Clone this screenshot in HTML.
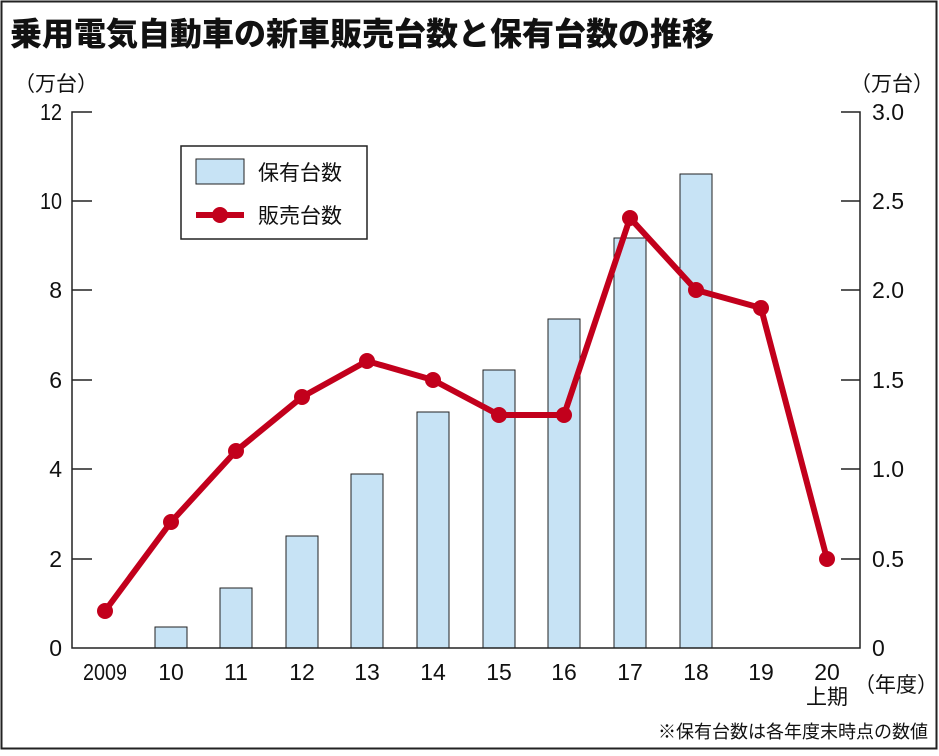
<!DOCTYPE html>
<html><head><meta charset="utf-8"><style>
body{margin:0;background:#fff;}
svg text{font-family:"Liberation Sans","Noto Sans CJK JP",sans-serif;fill:#111;}
</style></head><body>
<svg width="939" height="751" xmlns="http://www.w3.org/2000/svg">
<rect x="1.5" y="1.5" width="935" height="747" fill="#fff" stroke="#222" stroke-width="2"/>
<text x="10" y="45" font-size="32" font-weight="900" style="font-family:'Noto Sans CJK JP',sans-serif">乗用電気自動車の新車販売台数と保有台数の推移</text>
<text x="14" y="91" font-size="21">（万台）</text>
<text x="850" y="91" font-size="21">（万台）</text>
<g font-size="23" text-anchor="end">
<text x="62" y="120" textLength="22" lengthAdjust="spacingAndGlyphs">12</text><text x="62" y="209" textLength="22" lengthAdjust="spacingAndGlyphs">10</text><text x="62" y="298">8</text><text x="62" y="388">6</text><text x="62" y="477">4</text><text x="62" y="567">2</text><text x="62" y="656">0</text>
</g>
<g font-size="23">
<text x="872" y="120" textLength="32" lengthAdjust="spacingAndGlyphs">3.0</text><text x="872" y="209" textLength="32" lengthAdjust="spacingAndGlyphs">2.5</text><text x="872" y="298" textLength="32" lengthAdjust="spacingAndGlyphs">2.0</text><text x="872" y="388" textLength="32" lengthAdjust="spacingAndGlyphs">1.5</text><text x="872" y="477" textLength="32" lengthAdjust="spacingAndGlyphs">1.0</text><text x="872" y="567" textLength="32" lengthAdjust="spacingAndGlyphs">0.5</text><text x="872" y="656">0</text>
</g>
<g fill="#c7e3f5" stroke="#222" stroke-width="1">
<rect x="155" y="627" width="32" height="21"/>
<rect x="220" y="588" width="32" height="60"/>
<rect x="286" y="536" width="32" height="112"/>
<rect x="351" y="474" width="32" height="174"/>
<rect x="417" y="412" width="32" height="236"/>
<rect x="483" y="370" width="32" height="278"/>
<rect x="548" y="319" width="32" height="329"/>
<rect x="614" y="238" width="32" height="410"/>
<rect x="680" y="174" width="32" height="474"/>
</g>
<g stroke="#222" stroke-width="1.5" fill="none">
<polyline points="92,112 72,112 72,648 860,648 860,112 841,112"/>
<line x1="72" y1="201" x2="92" y2="201"/><line x1="72" y1="290" x2="92" y2="290"/><line x1="72" y1="380" x2="92" y2="380"/><line x1="72" y1="469" x2="92" y2="469"/><line x1="72" y1="559" x2="92" y2="559"/>
<line x1="841" y1="201" x2="860" y2="201"/><line x1="841" y1="290" x2="860" y2="290"/><line x1="841" y1="380" x2="860" y2="380"/><line x1="841" y1="469" x2="860" y2="469"/><line x1="841" y1="559" x2="860" y2="559"/>
</g>
<polyline fill="none" stroke="#c2001c" stroke-width="6" stroke-linejoin="round" points="105,611 171,522 236,451 302,397 367,361 433,380 499,415 564,415 630,218 696,290 761,308 827,559"/>
<g fill="#c2001c">
<circle cx="105" cy="611" r="8"/><circle cx="171" cy="522" r="8"/><circle cx="236" cy="451" r="8"/><circle cx="302" cy="397" r="8"/><circle cx="367" cy="361" r="8"/><circle cx="433" cy="380" r="8"/><circle cx="499" cy="415" r="8"/><circle cx="564" cy="415" r="8"/><circle cx="630" cy="218" r="8"/><circle cx="696" cy="290" r="8"/><circle cx="761" cy="308" r="8"/><circle cx="827" cy="559" r="8"/>
</g>
<rect x="181" y="146" width="186" height="93" fill="#fff" stroke="#222" stroke-width="1.5"/>
<rect x="196" y="159" width="48" height="25" fill="#c7e3f5" stroke="#222" stroke-width="1"/>
<text x="258" y="180" font-size="21">保有台数</text>
<line x1="196" y1="215" x2="244" y2="215" stroke="#c2001c" stroke-width="6"/>
<circle cx="220" cy="215" r="8" fill="#c2001c"/>
<text x="258" y="223" font-size="21">販売台数</text>
<g font-size="23" text-anchor="middle">
<text x="105" y="680" textLength="44" lengthAdjust="spacingAndGlyphs">2009</text><text x="171" y="680">10</text><text x="236" y="680">11</text><text x="302" y="680">12</text><text x="367" y="680">13</text><text x="433" y="680">14</text><text x="499" y="680">15</text><text x="564" y="680">16</text><text x="630" y="680">17</text><text x="696" y="680">18</text><text x="761" y="680">19</text><text x="827" y="680">20</text>
<text x="827" y="704" font-size="21">上期</text>
</g>
<text x="854" y="692" font-size="21">（年度）</text>
<text x="928" y="738" font-size="18" text-anchor="end">※保有台数は各年度末時点の数値</text>
</svg>
</body></html>
